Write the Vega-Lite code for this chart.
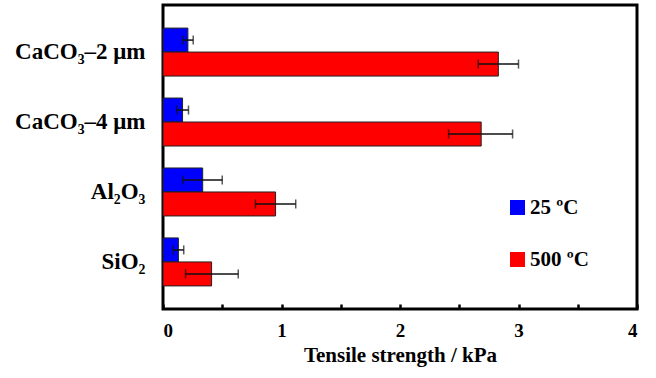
{
  "$schema": "https://vega.github.io/schema/vega-lite/v6.json",
  "autosize": {"type": "none"},
  "width": 474,
  "height": 304,
  "padding": {"left": 163, "top": 5, "right": 19, "bottom": 69},
  "config": {
    "font": "Liberation Serif",
    "view": {"stroke": "black", "strokeWidth": 3},
    "axis": {"labelFont": "Liberation Serif", "titleFont": "Liberation Serif", "labelFontWeight": "bold", "titleFontWeight": "bold", "labelColor": "black", "titleColor": "black", "grid": false, "domain": false},
    "legend": {"labelFont": "Liberation Serif", "labelFontWeight": "bold", "labelColor": "black"}
  },
  "data": {
    "values": [
      {"material": "CaCO₃–2 μm", "temp": "25 ºC", "value": 0.21, "lo": 0.165, "hi": 0.255},
      {"material": "CaCO₃–2 μm", "temp": "500 ºC", "value": 2.83, "lo": 2.66, "hi": 3.0},
      {"material": "CaCO₃–4 μm", "temp": "25 ºC", "value": 0.165, "lo": 0.115, "hi": 0.215},
      {"material": "CaCO₃–4 μm", "temp": "500 ºC", "value": 2.685, "lo": 2.41, "hi": 2.95},
      {"material": "Al₂O₃", "temp": "25 ºC", "value": 0.335, "lo": 0.167, "hi": 0.5},
      {"material": "Al₂O₃", "temp": "500 ºC", "value": 0.95, "lo": 0.78, "hi": 1.12},
      {"material": "SiO₂", "temp": "25 ºC", "value": 0.13, "lo": 0.085, "hi": 0.175},
      {"material": "SiO₂", "temp": "500 ºC", "value": 0.41, "lo": 0.19, "hi": 0.635}
    ]
  },
  "encoding": {
    "y": {
      "field": "material", "type": "nominal",
      "sort": ["CaCO₃–2 μm", "CaCO₃–4 μm", "Al₂O₃", "SiO₂"],
      "scale": {"paddingInner": 0.314, "paddingOuter": 0.33},
      "axis": {"title": null, "ticks": false, "labelFontSize": 23, "labelPadding": 18}
    },
    "yOffset": {"field": "temp", "type": "nominal", "sort": ["25 ºC", "500 ºC"]}
  },
  "layer": [
    {
      "mark": {"type": "bar", "stroke": "#222222", "strokeWidth": 1},
      "encoding": {
        "x": {
          "field": "value", "type": "quantitative",
          "scale": {"domain": [0, 4], "nice": false},
          "axis": {
            "title": "Tensile strength / kPa",
            "titleFontSize": 21,
            "titlePadding": 4,
            "values": [0, 0.5, 1, 1.5, 2, 2.5, 3, 3.5, 4],
            "labelExpr": "datum.value % 1 === 0 ? format(datum.value, 'd') : ''",
            "labelFontSize": 19,
            "labelPadding": 12,
            "ticks": true,
            "tickSize": 0,
            "grid": true,
            "gridColor": "black",
            "gridOpacity": 1,
            "gridWidth": 2.5,
            "gridDash": [5, 1000]
          }
        },
        "color": {
          "field": "temp", "type": "nominal",
          "sort": ["25 ºC", "500 ºC"],
          "scale": {"range": ["#0000ff", "#ff0000"]},
          "legend": {
            "title": null,
            "orient": "none",
            "legendX": 344,
            "legendY": 192,
            "padding": 0,
            "symbolType": "square",
            "symbolSize": 225,
            "symbolStrokeWidth": 0,
            "symbolOpacity": 1,
            "labelFontSize": 21,
            "labelOffset": 2,
            "rowPadding": 30
          }
        }
      }
    },
    {
      "mark": {"type": "rule", "color": "#111111", "strokeWidth": 1.5},
      "encoding": {
        "x": {"field": "lo", "type": "quantitative"},
        "x2": {"field": "hi"}
      }
    },
    {
      "mark": {"type": "tick", "orient": "vertical", "color": "#111111", "thickness": 1.5, "size": 9},
      "encoding": {"x": {"field": "lo", "type": "quantitative"}}
    },
    {
      "mark": {"type": "tick", "orient": "vertical", "color": "#111111", "thickness": 1.5, "size": 9},
      "encoding": {"x": {"field": "hi", "type": "quantitative"}}
    }
  ]
}
